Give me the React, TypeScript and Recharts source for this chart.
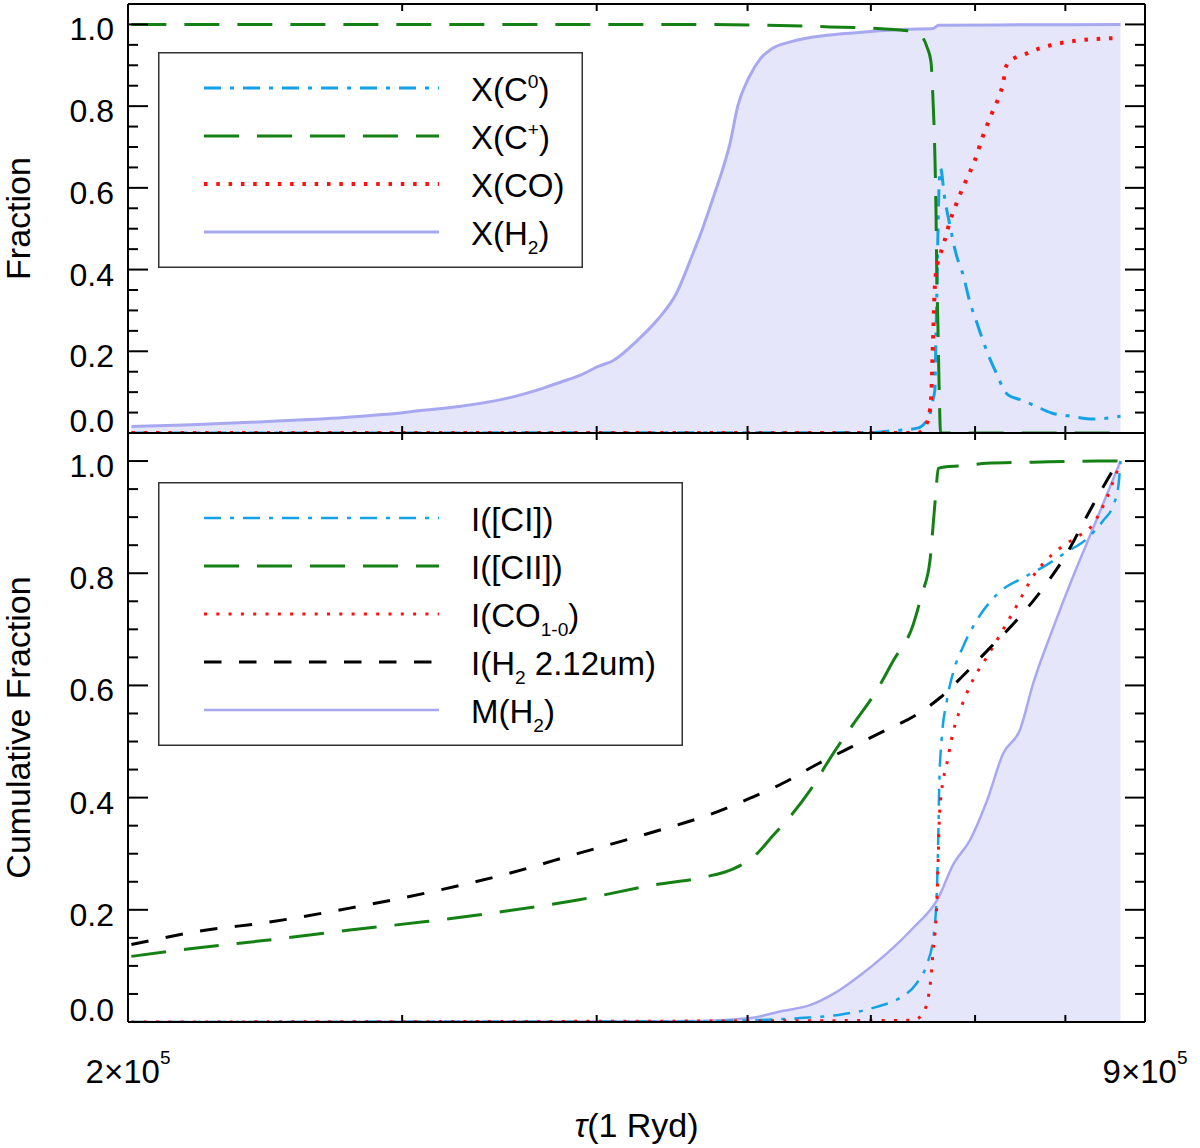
import React from 'react';
import { ComposedChart, Line, Area, XAxis, YAxis, Legend } from 'recharts';

const FONT = '"Liberation Sans", Arial, Helvetica, sans-serif';

// x = tau(1 Ryd) in units of 1e5 (log axis), y = fraction
const xTicks = [2, 3, 4, 5, 6, 7, 8, 9];
const xLabelTicks = [2, 9];
const xExponent = '5';
const yTicks = [
  0, 0.05, 0.1, 0.15, 0.2, 0.25, 0.3, 0.35, 0.4, 0.45, 0.5,
  0.55, 0.6, 0.65, 0.7, 0.75, 0.8, 0.85, 0.9, 0.95, 1.0,
];
const yLabelTicks = [0, 0.2, 0.4, 0.6, 0.8, 1.0];

// ---- upper panel: abundances ----
const xC0 = [
  [2.01, 0], [5.975, 0.001], [6.179, 0.005], [6.429, 0.012], [6.539, 0.04], [6.577, 0.081],
  [6.596, 0.106], [6.607, 0.244], [6.614, 0.326], [6.626, 0.489], [6.637, 0.603], [6.652, 0.648],
  [6.69, 0.579], [6.747, 0.505], [6.804, 0.44], [6.882, 0.383], [6.94, 0.326], [7.02, 0.269],
  [7.079, 0.228], [7.16, 0.179], [7.241, 0.138], [7.303, 0.106], [7.345, 0.094], [7.492, 0.081],
  [7.663, 0.065], [7.838, 0.049], [8.063, 0.041], [8.342, 0.034], [8.68, 0.041],
];
const xCplus = [
  [2.01, 1.0], [4.5, 1.0], [5.645, 0.994], [6.127, 0.989], [6.286, 0.986], [6.429, 0.98],
  [6.519, 0.945], [6.558, 0.909], [6.577, 0.82], [6.596, 0.68], [6.607, 0.54], [6.614, 0.4],
  [6.626, 0.26], [6.637, 0.12], [6.652, 0.0], [8.68, 0.0],
];
const xCO = [
  [2.01, 0], [6.429, 0.0], [6.519, 0.025], [6.558, 0.08], [6.577, 0.22], [6.596, 0.36],
  [6.626, 0.42], [6.652, 0.44], [6.69, 0.47], [6.747, 0.52], [6.804, 0.558], [6.901, 0.615],
  [6.999, 0.668], [7.079, 0.725], [7.168, 0.778], [7.263, 0.831], [7.303, 0.864], [7.316, 0.89],
  [7.387, 0.913], [7.514, 0.925], [7.757, 0.945], [8.017, 0.957], [8.65, 0.967],
];
const xH2 = [
  [2.01, 0.016], [2.197, 0.02], [2.46, 0.028], [2.754, 0.038], [2.915, 0.045], [3.085, 0.055],
  [3.264, 0.065], [3.513, 0.086], [3.697, 0.11], [3.803, 0.126], [3.912, 0.143], [4.02, 0.165],
  [4.089, 0.175], [4.252, 0.228], [4.376, 0.277], [4.501, 0.342], [4.604, 0.432], [4.683, 0.505],
  [4.763, 0.587], [4.818, 0.644], [4.872, 0.709], [4.928, 0.8], [5.013, 0.872], [5.098, 0.917],
  [5.185, 0.941], [5.335, 0.958], [5.645, 0.974], [5.974, 0.982], [6.322, 0.988], [6.577, 0.99],
  [6.633, 0.998], [7.5, 0.999], [8.68, 1.0],
];

// ---- lower panel: cumulative fractions ----
const iCI = [
  [2.01, 0], [4.66, 0.001], [5.018, 0.003], [5.403, 0.007], [5.732, 0.013], [6.052, 0.027],
  [6.264, 0.043], [6.421, 0.069], [6.517, 0.102], [6.58, 0.149], [6.614, 0.228], [6.629, 0.327],
  [6.639, 0.426], [6.663, 0.505], [6.712, 0.571], [6.778, 0.624], [6.879, 0.67], [7.017, 0.716],
  [7.156, 0.749], [7.298, 0.772], [7.481, 0.789], [7.782, 0.815], [8.016, 0.838], [8.256, 0.861],
  [8.461, 0.894], [8.587, 0.921], [8.651, 0.954], [8.68, 1.0],
];
const iCII = [
  [2.01, 0.117], [2.213, 0.132], [2.478, 0.147], [2.776, 0.164], [3.108, 0.179], [3.481, 0.197],
  [3.898, 0.218], [4.366, 0.245], [4.683, 0.258], [4.896, 0.273], [5.043, 0.294], [5.194, 0.333],
  [5.324, 0.366], [5.484, 0.413], [5.676, 0.479], [5.846, 0.531], [6.052, 0.591], [6.202, 0.644],
  [6.389, 0.709], [6.469, 0.762], [6.548, 0.822], [6.58, 0.888], [6.607, 0.947], [6.629, 0.987],
  [6.712, 0.99], [6.914, 0.992], [7.121, 0.996], [7.629, 0.998], [8.42, 1.0], [8.68, 1.0],
];
const iCO10 = [
  [2.01, 0], [6.389, 0.003], [6.484, 0.017], [6.548, 0.063], [6.58, 0.129], [6.614, 0.208],
  [6.629, 0.294], [6.639, 0.36], [6.663, 0.413], [6.712, 0.459], [6.778, 0.518], [6.879, 0.571],
  [6.981, 0.611], [7.121, 0.65], [7.263, 0.69], [7.444, 0.742], [7.629, 0.795], [7.858, 0.835],
  [8.094, 0.861], [8.337, 0.888], [8.504, 0.934], [8.631, 0.98], [8.68, 0.996],
];
const iH2line = [
  [2.01, 0.138], [2.213, 0.161], [2.478, 0.179], [2.776, 0.203], [3.108, 0.23], [3.481, 0.262],
  [3.898, 0.301], [4.366, 0.34], [4.73, 0.37], [5.018, 0.399], [5.271, 0.426], [5.538, 0.459],
  [5.818, 0.489], [6.111, 0.518], [6.421, 0.548], [6.646, 0.578], [6.914, 0.624], [7.156, 0.667],
  [7.444, 0.716], [7.782, 0.782], [8.016, 0.835], [8.256, 0.901], [8.461, 0.954], [8.651, 0.996],
  [8.68, 1.0],
];
const mH2 = [
  [2.01, 0], [4.0, 0.001], [4.66, 0.002], [5.018, 0.007], [5.271, 0.02], [5.484, 0.03],
  [5.676, 0.05], [5.904, 0.083], [6.142, 0.122], [6.389, 0.168], [6.629, 0.221], [6.778, 0.281],
  [6.947, 0.324], [7.121, 0.393], [7.298, 0.479], [7.481, 0.521], [7.629, 0.604], [7.858, 0.703],
  [8.094, 0.795], [8.337, 0.881], [8.546, 0.954], [8.68, 1.0],
];

const BLUE = '#14a2e6';
const GREEN = '#158115';
const RED = '#ff1010';
const LAV_LINE = '#a8a8f0';
const LAV_FILL = '#e6e6fa';

type Part = [string, string?];
interface Series {
  id: string;
  label: Part[];
  color: string;
  width: number;
  dash?: string;
  pts: number[][];
  area?: boolean;
}

const topSeries: Series[] = [
  { id: 'c0', label: [['X(C'], ['0', 'sup'], [')']], color: BLUE, width: 3, dash: '17 9 4 9', pts: xC0 },
  { id: 'cp', label: [['X(C'], ['+', 'sup'], [')']], color: GREEN, width: 3, dash: '35 18', pts: xCplus },
  { id: 'co', label: [['X(CO)']], color: RED, width: 4, dash: '3.5 8.8', pts: xCO },
  { id: 'h2', label: [['X(H'], ['2', 'sub'], [')']], color: LAV_LINE, width: 3, pts: xH2, area: true },
];

const bottomSeries: Series[] = [
  { id: 'ci', label: [['I([CI])']], color: BLUE, width: 2.5, dash: '17 9 4 9', pts: iCI },
  { id: 'cii', label: [['I([CII])']], color: GREEN, width: 3, dash: '35 18', pts: iCII },
  { id: 'co', label: [['I(CO'], ['1-0', 'sub'], [')']], color: RED, width: 3, dash: '3 9.3', pts: iCO10 },
  { id: 'h2l', label: [['I(H'], ['2', 'sub'], [' 2.12um)']], color: '#000', width: 3, dash: '17.5 17.5', pts: iH2line },
  { id: 'mh2', label: [['M(H'], ['2', 'sub'], [')']], color: LAV_LINE, width: 2.5, pts: mH2, area: true },
];

const rows = (pts: number[][]) => pts.map(([t, v]) => ({ t, v }));

const AXIS = { stroke: '#000', strokeWidth: 2 };

function RichText({ x, y, parts, size }: { x: number; y: number; parts: Part[]; size: number }) {
  let prev = 0;
  return (
    <text x={x} y={y} fontSize={size} fontFamily={FONT} fill="#000">
      {parts.map(([s, kind], i) => {
        const off = kind === 'sup' ? -13 : kind === 'sub' ? 9 : 0;
        const dy = off - prev;
        prev = off;
        return (
          <tspan key={i} dy={dy} fontSize={kind ? size * 0.58 : size}>
            {s}
          </tspan>
        );
      })}
    </text>
  );
}

function LegendBox({ series, width, height }: { series: Series[]; width: number; height: number }) {
  return (
    <svg width={width} height={height} style={{ display: 'block' }}>
      <rect x={0.75} y={0.75} width={width - 1.5} height={height - 1.5} fill="#fff" stroke="#333" strokeWidth={1.5} />
      {series.map((s, i) => {
        const cy = 36 + i * 48;
        return (
          <g key={s.id}>
            <line x1={46} x2={281} y1={cy} y2={cy} stroke={s.color} strokeWidth={s.width} strokeDasharray={s.dash} />
            <RichText x={313} y={cy + 12.5} parts={s.label} size={33} />
          </g>
        );
      })}
    </svg>
  );
}

function LeftTick(props: any) {
  const { x, y, payload } = props;
  const v: number = payload.value;
  const labelled = yLabelTicks.includes(v);
  return (
    <g>
      {v > 0 && <line x1={x} x2={x + (labelled ? 20 : 10)} y1={y} y2={y} stroke="#000" strokeWidth={2} />}
      {labelled && (
        <text x={x - 14} y={v === 0 ? y - 1 : y + 16} textAnchor="end" fontSize={32} fontFamily={FONT} fill="#000">
          {v.toFixed(1)}
        </text>
      )}
    </g>
  );
}

function RightTick(props: any) {
  const { x, y, payload } = props;
  const v: number = payload.value;
  if (v <= 0) return <g />;
  const len = yLabelTicks.includes(v) ? 20 : 10;
  return <line x1={x - len} x2={x} y1={y} y2={y} stroke="#000" strokeWidth={2} />;
}

function XTick(props: any) {
  const { x, y, payload, dir, showLabels } = props;
  const v: number = payload.value;
  const edge = xLabelTicks.includes(v);
  return (
    <g>
      {!edge && <line x1={x} x2={x} y1={y} y2={y + dir * 7} stroke="#000" strokeWidth={2} />}
      {showLabels && edge && (
        <text x={x} y={y + 61} textAnchor="middle" fontSize={33} fontFamily={FONT} fill="#000">
          {`${v}×10`}
          <tspan dy={-19} fontSize={19}>
            {xExponent}
          </tspan>
        </text>
      )}
    </g>
  );
}

function YTitle(props: any) {
  const { viewBox, text } = props;
  const cy = viewBox.y + viewBox.height / 2;
  return (
    <text x={30} y={cy} transform={`rotate(-90 30 ${cy})`} textAnchor="middle" fontSize={34} fontFamily={FONT} fill="#000">
      {text}
    </text>
  );
}

function XTitle(props: any) {
  const { viewBox } = props;
  return (
    <text x={viewBox.x + viewBox.width / 2} y={viewBox.y + 115} textAnchor="middle" fontSize={34} fontFamily={FONT} fill="#000">
      <tspan fontStyle="italic">τ</tspan>(1 Ryd)
    </text>
  );
}

interface PanelProps {
  series: Series[];
  top: number;
  height: number;
  margin: { top: number; right: number; bottom: number; left: number };
  legend: { left: number; top: number; width: number; height: number };
  yTitle: string;
  bottomLabels?: boolean;
}

// axes are given a 1px box so that Recharts draws them; margins are trimmed by that pixel
function Panel({ series, top, height, margin, legend, yTitle, bottomLabels }: PanelProps) {
  return (
    <div style={{ position: 'absolute', left: 0, top, width: 1200, height }}>
      <ComposedChart width={1200} height={height} margin={margin}>
        <XAxis
          xAxisId="b"
          dataKey="t"
          type="number"
          scale="log"
          domain={[2, 9]}
          ticks={xTicks}
          interval={0}
          allowDataOverflow
          orientation="bottom"
          height={1}
          tickSize={0}
          tickMargin={0}
          tickLine={false}
          axisLine={AXIS}
          tick={(p: any) => <XTick {...p} dir={-1} showLabels={bottomLabels} />}
          label={bottomLabels ? <XTitle /> : undefined}
        />
        <XAxis
          xAxisId="t"
          dataKey="t"
          type="number"
          scale="log"
          domain={[2, 9]}
          ticks={xTicks}
          interval={0}
          allowDataOverflow
          orientation="top"
          height={1}
          tickSize={0}
          tickMargin={0}
          tickLine={false}
          axisLine={AXIS}
          tick={(p: any) => <XTick {...p} dir={1} />}
        />
        <YAxis
          yAxisId="l"
          type="number"
          domain={[0, 1.05]}
          ticks={yTicks}
          interval={0}
          allowDataOverflow
          width={1}
          tickSize={0}
          tickMargin={0}
          tickLine={false}
          axisLine={AXIS}
          tick={(p: any) => <LeftTick {...p} />}
          label={<YTitle text={yTitle} />}
        />
        <YAxis
          yAxisId="r"
          orientation="right"
          type="number"
          domain={[0, 1.05]}
          ticks={yTicks}
          interval={0}
          allowDataOverflow
          width={1}
          tickSize={0}
          tickMargin={0}
          tickLine={false}
          axisLine={AXIS}
          tick={(p: any) => <RightTick {...p} />}
        />
        {series
          .filter((s) => s.area)
          .map((s) => (
            <Area
              key={s.id}
              xAxisId="b"
              yAxisId="l"
              data={rows(s.pts)}
              dataKey="v"
              type="monotoneX"
              stroke={s.color}
              strokeWidth={s.width}
              fill={LAV_FILL}
              fillOpacity={1}
              dot={false}
              activeDot={false}
              isAnimationActive={false}
            />
          ))}
        {series
          .filter((s) => !s.area)
          .map((s) => (
            <Line
              key={s.id}
              xAxisId="b"
              yAxisId="l"
              data={rows(s.pts)}
              dataKey="v"
              type="monotoneX"
              stroke={s.color}
              strokeWidth={s.width}
              strokeDasharray={s.dash}
              dot={false}
              activeDot={false}
              isAnimationActive={false}
            />
          ))}
        <Legend
          layout="horizontal"
          verticalAlign="middle"
          align="center"
          wrapperStyle={{ left: legend.left, top: legend.top, width: legend.width, height: legend.height }}
          content={() => <LegendBox series={series} width={legend.width} height={legend.height} />}
        />
      </ComposedChart>
    </div>
  );
}

export default function App() {
  return (
    <div style={{ position: 'absolute', left: 0, top: 0, width: 1200, height: 1148, background: '#fff' }}>
      <Panel
        series={topSeries}
        top={0}
        height={440}
        margin={{ top: 3, right: 54, bottom: 6, left: 127 }}
        legend={{ left: 158, top: 52, width: 425, height: 216 }}
        yTitle="Fraction"
      />
      <Panel
        series={bottomSeries}
        top={426}
        height={722}
        margin={{ top: 6, right: 54, bottom: 125, left: 127 }}
        legend={{ left: 158, top: 56, width: 525, height: 264 }}
        yTitle="Cumulative Fraction"
        bottomLabels
      />
    </div>
  );
}
